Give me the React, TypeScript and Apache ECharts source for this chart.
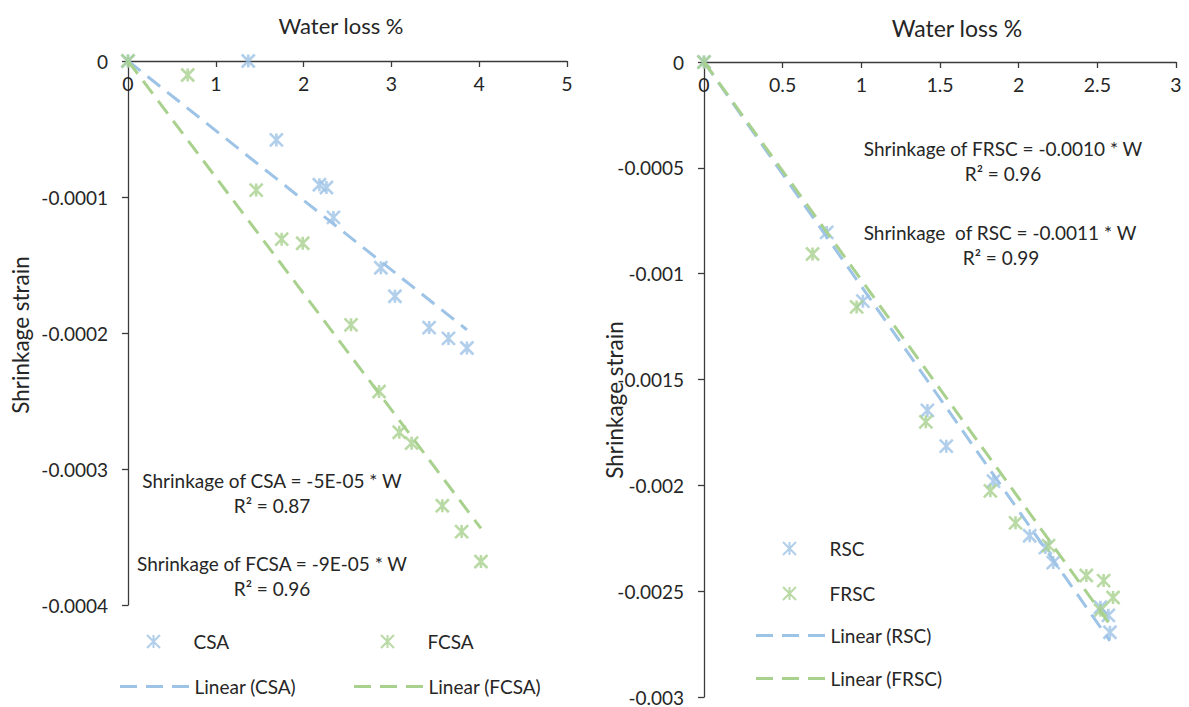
import React, { useEffect, useRef } from 'react';
import * as echarts from 'echarts';

// ---- data ----
const csaX = [0, 1.37, 1.69, 2.18, 2.26, 2.34, 2.88, 3.04, 3.43, 3.65, 3.86];
const csaY = [0, 0, -0.000058, -0.000091, -0.000093, -0.000115, -0.000152, -0.000173, -0.000196, -0.000204, -0.000211];
const fcsaX = [0, 0.68, 1.46, 1.75, 1.99, 2.54, 2.86, 3.09, 3.23, 3.58, 3.8, 4.02];
const fcsaY = [0, -0.0000103, -0.0000949, -0.000131, -0.000134, -0.000194, -0.000243, -0.000273, -0.000281, -0.000327, -0.000346, -0.000368];
const rscX = [0, 0.78, 1.01, 1.42, 1.54, 1.84, 2.07, 2.17, 2.22, 2.52, 2.57, 2.58];
const rscY = [0, -0.000805, -0.00113, -0.001646, -0.001815, -0.00198, -0.002238, -0.002294, -0.002365, -0.002576, -0.002614, -0.002694];
const frscX = [0, 0.69, 0.97, 1.41, 1.82, 1.98, 2.19, 2.43, 2.54, 2.6, 2.52];
const frscY = [0, -0.000907, -0.001157, -0.0017, -0.002026, -0.002177, -0.002285, -0.002426, -0.00245, -0.00253, -0.00259];

const csaSlope = -0.0000512;
const fcsaSlope = -0.0000855;
const rscSlope = -0.00106;
const frscSlope = -0.00103;

const leftXTicks = { min: 0, max: 5, interval: 1 };
const leftYTicks = { min: -0.0004, max: 0, interval: 0.0001 };
const rightXTicks = { min: 0, max: 3, interval: 0.5 };
const rightYTicks = { min: -0.003, max: 0, interval: 0.0005 };

const xTitle = 'Water loss %';
const yTitle = 'Shrinkage strain';
const leftNotes = ['Shrinkage of CSA = -5E-05 * W', 'R² = 0.87', 'Shrinkage of FCSA = -9E-05 * W', 'R² = 0.96'];
const rightNotes = ['Shrinkage of FRSC = -0.0010 * W', 'R² = 0.96', 'Shrinkage  of RSC = -0.0011 * W', 'R² = 0.99'];

// ---- styling ----
const BLUE = '#9DC3E6';
const GREEN = '#A9D18E';
const TXT = '#262626';
const AX = '#3a3a3a';
const FONT = 'Lato, "Noto Sans", sans-serif';
const STAR = 'path://M0,0L10,10M10,0L0,10M5,0L5,10';
const DASH_ICON = 'path://M0,0h17v3h-17zM26,0h17v3h-17zM52,0h17v3h-17z';

const pairs = (xs: number[], ys: number[]) => xs.map((x, i) => [x, ys[i]]);
const trend = (xs: number[], slope: number) => {
  const mx = Math.max(...xs);
  return [[0, 0], [mx, slope * mx]];
};
const fmt = (v: number) => (Math.abs(v) < 1e-12 ? '0' : String(parseFloat(v.toPrecision(6))));

function xAxisCfg(ticks: any, gridIndex: number) {
  return {
    type: 'value', gridIndex, position: 'top', ...ticks,
    axisLine: { show: true, onZero: false, lineStyle: { color: AX, width: 1.3 } },
    axisTick: { show: true, inside: true, length: 6, lineStyle: { color: AX, width: 1.3 } },
    axisLabel: { inside: true, margin: 12, fontFamily: FONT, fontSize: 19.5, color: TXT, formatter: fmt },
    splitLine: { show: false },
  };
}
function yAxisCfg(ticks: any, gridIndex: number) {
  return {
    type: 'value', gridIndex, ...ticks,
    axisLine: { show: true, onZero: false, lineStyle: { color: AX, width: 1.3 } },
    axisTick: { show: true, length: 6, lineStyle: { color: AX, width: 1.3 } },
    axisLabel: { margin: 20, fontFamily: FONT, fontSize: 19, color: TXT, formatter: fmt },
    splitLine: { show: false },
  };
}
function scatter(name: string, data: any, color: string, gi: number) {
  return {
    name, type: 'scatter', xAxisIndex: gi, yAxisIndex: gi, data,
    symbol: STAR, symbolSize: 13,
    itemStyle: { color, borderColor: color, borderWidth: 2.6 },
    silent: true,
  };
}
function line(name: string, data: any, color: string, gi: number) {
  return {
    name, type: 'line', xAxisIndex: gi, yAxisIndex: gi, data,
    symbol: 'none', showSymbol: false,
    lineStyle: { color, width: 3, type: [16, 9] },
    itemStyle: { color },
    silent: true, z: 3,
  };
}
function legendScatter(name: string, left: number, cy: number) {
  return {
    data: [name], left, top: cy - 11, itemWidth: 70, itemHeight: 13, itemGap: 0, padding: 0,
    selectedMode: false,
    textStyle: { fontFamily: FONT, fontSize: 19, color: TXT },
  };
}
function legendLine(name: string, left: number, cy: number) {
  return {
    data: [{ name, icon: DASH_ICON }], left, top: cy - 11, itemWidth: 70, itemHeight: 3, itemGap: 0, padding: 0,
    selectedMode: false,
    textStyle: { fontFamily: FONT, fontSize: 19, color: TXT },
  };
}
function note(text: string, x: number, y: number, size = 19, rotation = 0) {
  return {
    type: 'text', x, y, rotation, silent: true,
    style: { text, fill: TXT, fontFamily: FONT, fontSize: size, align: 'center', verticalAlign: 'middle' },
  };
}

export default function App() {
  const ref = useRef<HTMLDivElement>(null);
  useEffect(() => {
    if (!ref.current) return;
    const chart = echarts.init(ref.current, null, { renderer: 'svg' });
    chart.setOption({
      animation: false,
      backgroundColor: '#ffffff',
      grid: [
        { left: 128, top: 61, width: 439, height: 544 },
        { left: 704, top: 62, width: 472, height: 635 },
      ],
      xAxis: [xAxisCfg(leftXTicks, 0), xAxisCfg(rightXTicks, 1)],
      yAxis: [yAxisCfg(leftYTicks, 0), yAxisCfg(rightYTicks, 1)],
      legend: [
        legendScatter('CSA', 146, 643),
        legendScatter('FCSA', 380, 643),
        legendLine('Linear (CSA)', 120, 688),
        legendLine('Linear (FCSA)', 354, 688),
        legendScatter('RSC', 782, 550),
        legendScatter('FRSC', 782, 595),
        legendLine('Linear (RSC)', 756, 637),
        legendLine('Linear (FRSC)', 756, 680),
      ],
      graphic: {
        elements: [
          note(xTitle, 341, 25, 22),
          note(xTitle, 957, 28, 23),
          note(yTitle, 20, 335, 22.5, Math.PI / 2),
          note(yTitle, 614, 400, 22.5, Math.PI / 2),
          note(leftNotes[0], 272, 480),
          note(leftNotes[1], 272, 505),
          note(leftNotes[2], 272, 563),
          note(leftNotes[3], 272, 588),
          note(rightNotes[0], 1003, 148),
          note(rightNotes[1], 1003, 173),
          note(rightNotes[2], 1000, 232),
          note(rightNotes[3], 1001, 257),
        ],
      },
      series: [
        scatter('CSA', pairs(csaX, csaY), BLUE, 0),
        scatter('FCSA', pairs(fcsaX, fcsaY), GREEN, 0),
        line('Linear (CSA)', trend(csaX, csaSlope), BLUE, 0),
        line('Linear (FCSA)', trend(fcsaX, fcsaSlope), GREEN, 0),
        scatter('RSC', pairs(rscX, rscY), BLUE, 1),
        scatter('FRSC', pairs(frscX, frscY), GREEN, 1),
        line('Linear (RSC)', trend(rscX, rscSlope), BLUE, 1),
        line('Linear (FRSC)', trend(frscX, frscSlope), GREEN, 1),
      ],
    });
    return () => chart.dispose();
  }, []);
  return (
    <div
      ref={ref}
      style={{ position: 'fixed', left: 0, top: 0, width: 1189, height: 707, background: '#fff' }}
    />
  );
}
